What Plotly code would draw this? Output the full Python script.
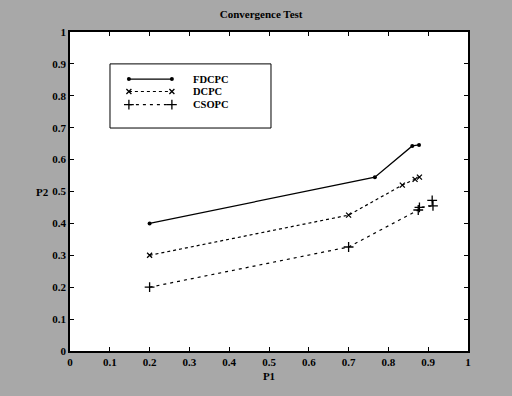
import plotly.graph_objects as go

# Data
fdcpc_x = [0.2, 0.766, 0.86, 0.877]
fdcpc_y = [0.40, 0.545, 0.643, 0.646]

dcpc_x = [0.2, 0.70, 0.835, 0.867, 0.878]
dcpc_y = [0.30, 0.426, 0.52, 0.538, 0.545]

csopc_x = [0.2, 0.70, 0.875, 0.878, 0.912, 0.91]
csopc_y = [0.20, 0.326, 0.442, 0.45, 0.455, 0.472]

series_names = ["FDCPC", "DCPC", "CSOPC"]

tick_vals = [0, 0.1, 0.2, 0.3, 0.4, 0.5, 0.6, 0.7, 0.8, 0.9, 1]
tick_text = ["0", "0.1", "0.2", "0.3", "0.4", "0.5", "0.6", "0.7", "0.8", "0.9", "1"]

serif = "Liberation Serif"

styles = [
    dict(line=dict(color="black", width=1.3, dash="solid"),
         marker=dict(symbol="circle", size=4, color="black")),
    dict(line=dict(color="black", width=1.2, dash="dot"),
         marker=dict(symbol="x-thin", size=5, line=dict(color="black", width=1.3))),
    dict(line=dict(color="black", width=1.2, dash="3px,4px"),
         marker=dict(symbol="cross-thin", size=7, line=dict(color="black", width=1.3))),
]
data_x = [fdcpc_x, dcpc_x, csopc_x]
data_y = [fdcpc_y, dcpc_y, csopc_y]

fig = go.Figure()
for name, xs, ys, st in zip(series_names, data_x, data_y, styles):
    fig.add_trace(go.Scatter(x=xs, y=ys, name=name, mode="lines+markers",
                             showlegend=False, **st))

# Legend key drawn on an overlay axis spanning the plot area (layout positions, in fractions)
key_rows = [0.8525, 0.8135, 0.7725]
key_x0, key_x1, key_text_x = 0.148, 0.256, 0.3065
for name, yy, st in zip(series_names, key_rows, styles):
    fig.add_trace(go.Scatter(x=[key_x0, key_x1], y=[yy, yy], mode="lines+markers",
                             xaxis="x2", yaxis="y2", showlegend=False,
                             hoverinfo="skip", **st))
    fig.add_annotation(x=key_text_x, y=yy, xref="x2", yref="y2", text=name,
                       showarrow=False, xanchor="left", yanchor="middle", borderpad=0,
                       font=dict(family=serif, size=10.5, color="black", weight="bold"))

axis_common = dict(
    range=[0, 1], tickvals=tick_vals, ticktext=tick_text,
    ticks="inside", ticklen=4, tickcolor="black", tickwidth=1,
    showline=True, linecolor="black", linewidth=1.5, mirror="ticks",
    showgrid=False, zeroline=False,
    tickfont=dict(family=serif, size=11, color="black", weight="bold"),
    title_font=dict(family=serif, size=11, color="black", weight="bold"),
)

fig.update_layout(
    xaxis=dict(**axis_common, title_text="P1", title_standoff=5),
    yaxis=dict(**axis_common),
    xaxis2=dict(range=[0, 1], overlaying="x", visible=False, anchor="y2"),
    yaxis2=dict(range=[0, 1], overlaying="y", visible=False, anchor="x2"),
)

fig.add_annotation(x=-0.068, y=0.5, xref="paper", yref="paper", text="P2",
                   showarrow=False, xanchor="center", yanchor="middle", borderpad=0,
                   font=dict(family=serif, size=11, color="black", weight="bold"))

fig.update_layout(
    width=512, height=396,
    margin=dict(l=70, r=44, t=32, b=45),
    paper_bgcolor="#a8a8a8",
    plot_bgcolor="white",
    title=dict(text="Convergence Test", x=0.51, xanchor="center", y=0.975, yanchor="top",
               font=dict(family=serif, size=11, color="black", weight="bold")),
    showlegend=False,
    shapes=[dict(type="rect", xref="paper", yref="paper",
                 x0=0.1005, x1=0.505, y0=0.699, y1=0.9,
                 line=dict(color="black", width=1), fillcolor="rgba(0,0,0,0)")],
)

fig.write_html("out.html", config={"displayModeBar": False},
               post_script="document.body.style.margin='0';document.body.style.background='#a8a8a8';")
